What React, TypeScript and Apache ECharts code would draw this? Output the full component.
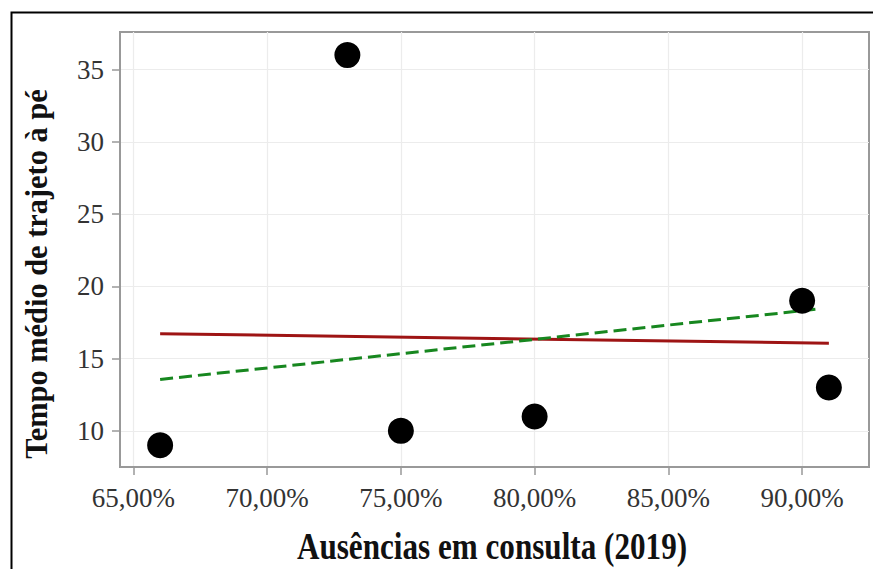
import React, { useEffect, useRef } from "react";
import * as echarts from "echarts";

const ausencias = [66, 73, 75, 80, 90, 91];
const tempo = [9, 36, 10, 11, 19, 13];
const xTicks = [65, 70, 75, 80, 85, 90];
const yTicks = [10, 15, 20, 25, 30, 35];
const redLineX = [66, 91];
const redLineY = [16.72, 16.06];
const greenLineX = [66, 90.5];
const greenLineY = [13.56, 18.41];
const xTitle = "Ausências em consulta (2019)";
const yTitle = "Tempo médio de trajeto à pé";

const pct = (v: number) => v.toFixed(2).replace(".", ",") + "%";

export default function App() {
  const ref = useRef<HTMLDivElement>(null);
  useEffect(() => {
    if (!ref.current) return;
    const chart = echarts.init(ref.current, undefined, { renderer: "svg" });
    const serif = "'Liberation Serif', 'Times New Roman', serif";
    chart.setOption({
      animation: false,
      backgroundColor: "#fff",
      grid: {
        left: 120,
        top: 32,
        right: 4,
        bottom: 102,
        outerBoundsMode: "none",
        containLabel: false,
        show: true,
        borderColor: "#999",
        borderWidth: 2,
        backgroundColor: "transparent",
      },
      xAxis: {
        type: "value",
        min: 64.5,
        max: 92.5,
        axisLine: { show: true, onZero: false, lineStyle: { color: "#999", width: 2 } },
        axisTick: { show: true, length: 8, customValues: xTicks, lineStyle: { color: "#999", width: 1.5 } },
        axisLabel: { customValues: xTicks, formatter: (v: number) => pct(v), margin: 17, fontFamily: serif, fontSize: 27, color: "#333" },
        splitLine: { show: true, lineStyle: { color: "#ececec", width: 1.2 } },
      },
      yAxis: {
        type: "value",
        min: 7.5,
        max: 37.6,
        axisLine: { show: true, onZero: false, lineStyle: { color: "#999", width: 2 } },
        axisTick: { show: true, length: 8, customValues: yTicks, lineStyle: { color: "#999", width: 1.5 } },
        axisLabel: { customValues: yTicks, margin: 16, fontFamily: serif, fontSize: 27, color: "#333" },
        splitLine: { show: true, lineStyle: { color: "#ececec", width: 1.2 } },
      },
      graphic: [
        {
          type: "rect",
          left: 9,
          top: 10,
          shape: { width: 900, height: 600 },
          style: { fill: "none", stroke: "#000", lineWidth: 2 },
          silent: true,
          z: 100,
        },
        {
          type: "text",
          x: 492,
          y: 546,
          scaleX: 0.82,
          scaleY: 1,
          silent: true,
          style: {
            text: xTitle,
            fontFamily: serif,
            fontWeight: "bold",
            fontSize: 38,
            fill: "#111",
            textAlign: "center",
            textVerticalAlign: "middle",
          },
        },
        {
          type: "text",
          x: 36,
          y: 274,
          rotation: Math.PI / 2,
          scaleX: 0.95,
          scaleY: 1,
          silent: true,
          style: {
            text: yTitle,
            fontFamily: serif,
            fontWeight: "bold",
            fontSize: 32,
            fill: "#111",
            textAlign: "center",
            textVerticalAlign: "middle",
          },
        },
      ],
      series: [
        {
          type: "line",
          data: redLineX.map((x, i) => [x, redLineY[i]]),
          symbol: "none",
          lineStyle: { color: "#9e1414", width: 3 },
          z: 2,
        },
        {
          type: "line",
          data: greenLineX.map((x, i) => [x, greenLineY[i]]),
          symbol: "none",
          lineStyle: { color: "#17871f", width: 3, type: [13, 6] },
          z: 2,
        },
        {
          type: "scatter",
          data: ausencias.map((x, i) => [x, tempo[i]]),
          symbolSize: 26,
          itemStyle: { color: "#000", opacity: 1 },
          z: 5,
        },
      ],
    });
    return () => chart.dispose();
  }, []);
  return (
    <div
      ref={ref}
      style={{ position: "fixed", left: 0, top: 0, width: 873, height: 569 }}
    />
  );
}
